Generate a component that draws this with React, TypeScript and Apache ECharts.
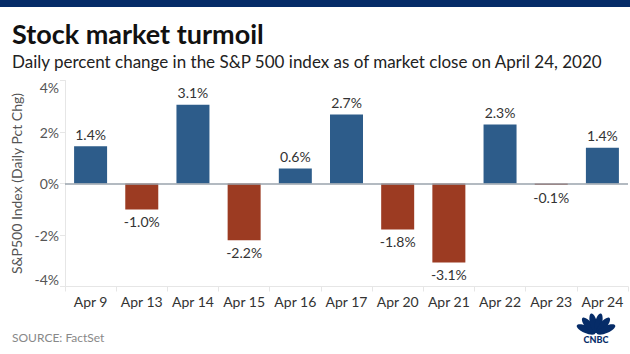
import React, { useEffect, useRef } from "react";
import * as echarts from "echarts";

const categories = ["Apr 9", "Apr 13", "Apr 14", "Apr 15", "Apr 16", "Apr 17", "Apr 20", "Apr 21", "Apr 22", "Apr 23", "Apr 24"];
const pctChange = [1.45, -1.01, 3.06, -2.2, 0.58, 2.68, -1.79, -3.07, 2.29, -0.06, 1.39];
const yTicks = [-4, -2, 0, 2, 4];

const BLUE = "#2d5c8a";
const RED = "#9c3b22";
const NAVY = "#062c68";

export default function App() {
  const ref = useRef<HTMLDivElement>(null);
  useEffect(() => {
    if (!ref.current) return;
    const chart = echarts.init(ref.current, undefined, { renderer: "svg" });
    const feathers = [-66, -40, -13, 13, 40, 66].map((deg) => ({
      type: "ellipse",
      rotation: (-deg * Math.PI) / 180,
      shape: { cx: 0, cy: -11, rx: 3.6, ry: 10 },
      style: { fill: NAVY },
    }));
    chart.setOption({
      animation: false,
      backgroundColor: "#ffffff",
      textStyle: { fontFamily: "Lato" },
      title: [
        {
          text: "Stock market turmoil",
          left: 7,
          top: 15,
          textStyle: { fontFamily: "Lato", fontWeight: "bold", fontSize: 27, color: "#111111" },
        },
        {
          text: "Daily percent change in the S&P 500 index as of market close on April 24, 2020",
          left: 7,
          top: 48,
          textStyle: { fontFamily: "Lato", fontWeight: "normal", fontSize: 17, color: "#222222" },
        },
        {
          text: "SOURCE: FactSet",
          left: 7,
          top: 326,
          textStyle: { fontFamily: "Lato", fontWeight: "normal", fontSize: 12, color: "#888888" },
        },
      ],
      graphic: [
        { type: "rect", left: 0, top: 0, shape: { width: 630, height: 7 }, style: { fill: NAVY } },
        { type: "group", x: 596, y: 334, children: feathers },
        {
          type: "text",
          x: 596,
          y: 335,
          style: { text: "CNBC", fill: NAVY, font: "900 9px Lato", align: "center", verticalAlign: "top" },
        },
      ],
      grid: { left: 65, right: 2, top: 80.5, bottom: 67.5, containLabel: false },
      xAxis: {
        type: "category",
        data: categories,
        axisLine: { onZero: false, lineStyle: { color: "#e6e6e6" } },
        axisTick: { show: true, length: 5, lineStyle: { color: "#e6e6e6" } },
        axisLabel: { color: "#333333", fontSize: 14, margin: 8, interval: 0 },
      },
      yAxis: {
        type: "value",
        min: -4,
        max: 4,
        interval: 2,
        name: "S&P500 Index (Daily Pct Chg)",
        nameLocation: "middle",
        nameGap: 40,
        nameTextStyle: { color: "#555555", fontSize: 14 },
        axisLine: { show: true, lineStyle: { color: "#e6e6e6" } },
        axisTick: { show: true, length: 5, lineStyle: { color: "#e6e6e6" } },
        splitLine: { show: false },
        axisLabel: {
          color: "#555555",
          fontSize: 14,
          margin: 6,
          verticalAlignMaxLabel: "top",
          verticalAlignMinLabel: "bottom",
          formatter: (v: number) => (yTicks.includes(v) ? `${v}%` : ""),
        },
      },
      series: [
        {
          type: "bar",
          barWidth: 33,
          data: pctChange.map((v) => ({
            value: v,
            itemStyle: { color: v >= 0 ? BLUE : RED },
            label: { position: v >= 0 ? "top" : "bottom" },
          })),
          label: {
            show: true,
            color: "#333333",
            fontSize: 14,
            distance: 5,
            formatter: (p: any) => `${Number(p.value).toFixed(1)}%`,
          },
          markLine: {
            silent: true,
            symbol: "none",
            label: { show: false },
            lineStyle: { color: "#9aa3ad", width: 1.5, type: "solid" },
            data: [{ yAxis: 0 }],
          },
        },
      ],
    });
    return () => chart.dispose();
  }, []);
  return <div ref={ref} style={{ width: 630, height: 354, position: "fixed", left: 0, top: 0 }} />;
}
